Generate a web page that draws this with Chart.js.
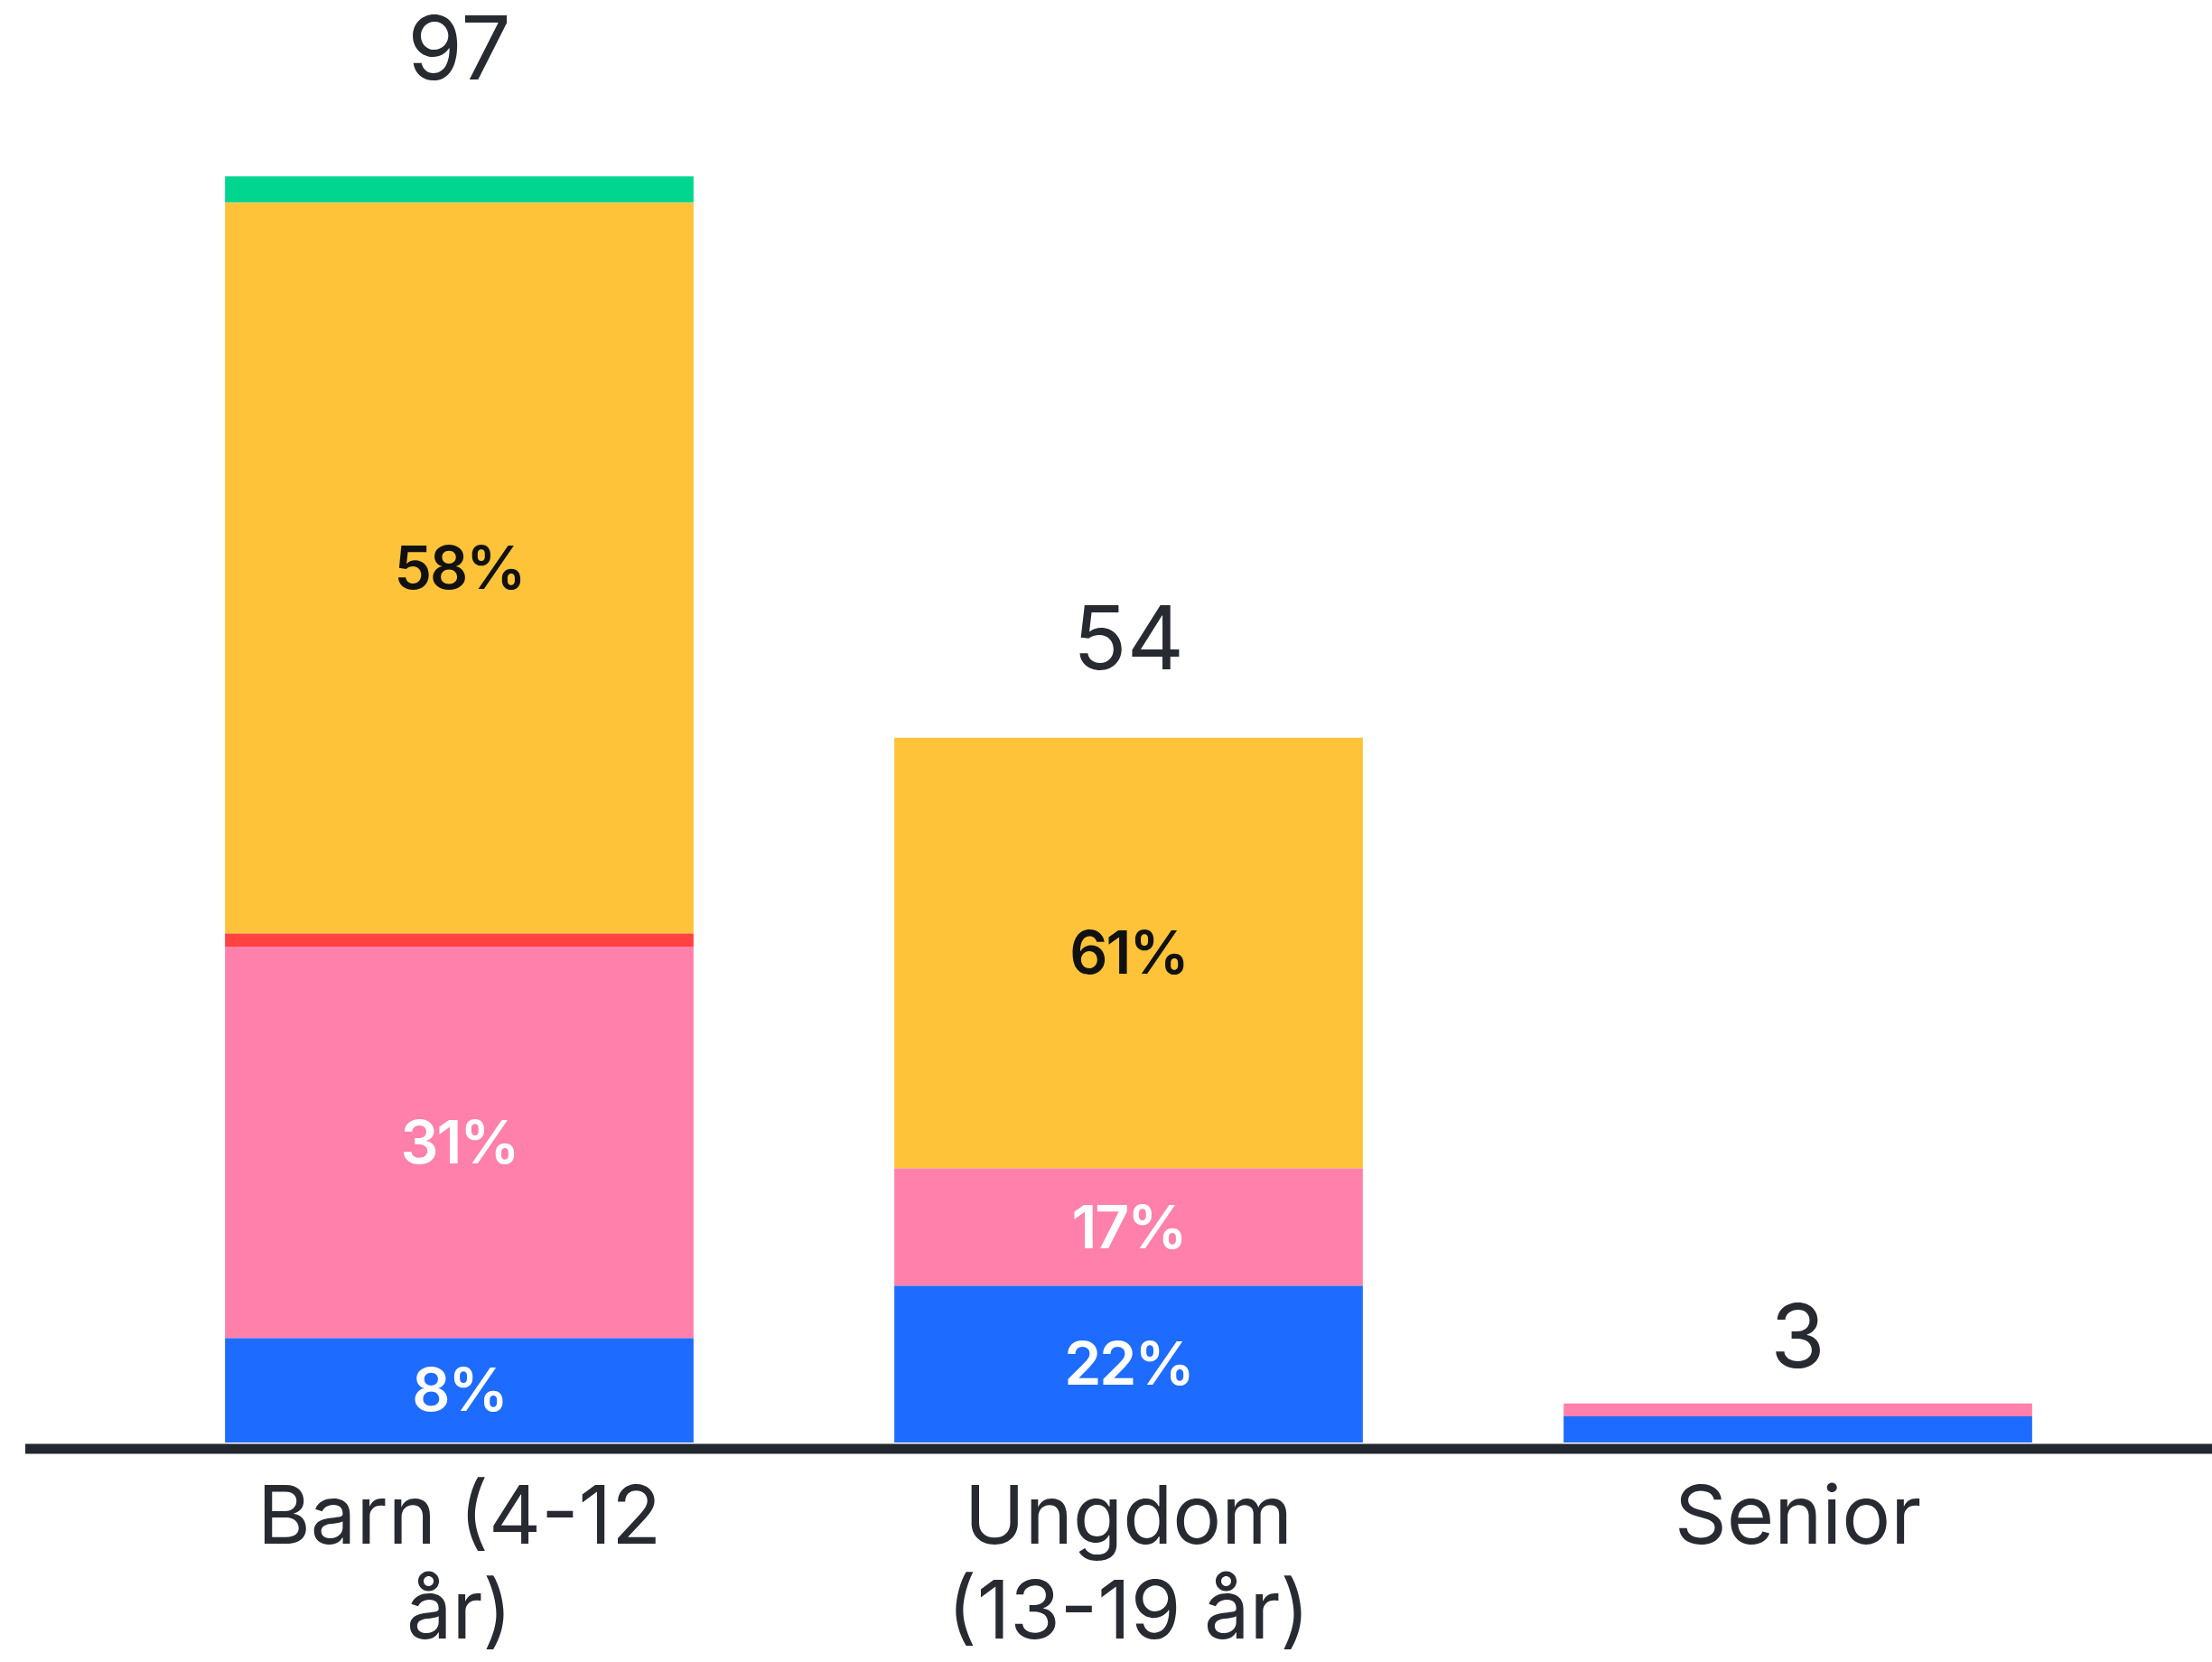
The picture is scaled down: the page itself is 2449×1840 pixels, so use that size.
<!DOCTYPE html>
<html>
<head>
<meta charset="utf-8">
<script src="https://cdn.jsdelivr.net/npm/chart.js@4"></script>
<style>
  body { margin: 0; background: #fff; }
</style>
</head>
<body>
<canvas id="chart" width="2449" height="1840"></canvas>
<script>
const categories = [['Barn (4-12', 'år)'], ['Ungdom', '(13-19 år)'], 'Senior'];
// stacked from bottom to top
const blueValues = [8, 12, 2];
const pinkValues = [30, 9, 1];
const redValues = [1, 0, 0];
const yellowValues = [56, 33, 0];
const greenValues = [2, 0, 0];

const textColor = '#272a31';
const font = 'Inter, "Noto Sans", sans-serif';

const totals = categories.map((c, i) =>
    blueValues[i] + pinkValues[i] + redValues[i] + yellowValues[i] + greenValues[i]);

// percent labels inside segments + total above bars + baseline
const labelPlugin = {
    id: 'labels',
    afterDatasetsDraw(chart) {
        const ctx = chart.ctx;
        const y = chart.scales.y;
        ctx.save();
        ctx.textAlign = 'center';
        ctx.textBaseline = 'alphabetic';

        chart.data.datasets.forEach((ds, di) => {
            const meta = chart.getDatasetMeta(di);
            meta.data.forEach((bar, i) => {
                const v = ds.data[i];
                if (v < 5) return;
                const pct = Math.round(v / totals[i] * 100) + '%';
                ctx.font = '600 66px ' + font;
                ctx.fillStyle = ds.labelColor;
                ctx.letterSpacing = '-2px';
                ctx.fillText(pct, bar.x, (bar.y + bar.base) / 2 + 23);
            });
        });

        ctx.letterSpacing = '0px';
        const base = y.getPixelForValue(0);
        const lastMeta = chart.getDatasetMeta(chart.data.datasets.length - 1);
        lastMeta.data.forEach((bar, i) => {
            const top = y.getPixelForValue(totals[i]);
            const offset = 73 + 0.05 * (base - top);
            ctx.font = '400 98px ' + font;
            ctx.fillStyle = textColor;
            ctx.fillText(String(totals[i]), bar.x, top - offset + 36);
        });

        ctx.strokeStyle = '#23272f';
        ctx.lineWidth = 11;
        ctx.beginPath();
        ctx.moveTo(28, base + 7);
        ctx.lineTo(chart.width, base + 7);
        ctx.stroke();
        ctx.restore();
    }
};

function series(label, data, color, labelColor) {
    return {
        label: label,
        data: data,
        backgroundColor: color,
        borderWidth: 0,
        labelColor: labelColor,
        barPercentage: 0.7,
        categoryPercentage: 1
    };
}

new Chart(document.getElementById('chart'), {
    type: 'bar',
    data: {
        labels: categories,
        datasets: [
            series('Blå', blueValues, '#1e6bff', '#ffffff'),
            series('Rosa', pinkValues, '#ff80aa', '#ffffff'),
            series('Röd', redValues, '#ff4242', '#ffffff'),
            series('Gul', yellowValues, '#fec338', '#111111'),
            series('Grön', greenValues, '#00d690', '#111111')
        ]
    },
    options: {
        responsive: false,
        animation: false,
        layout: {
            padding: { left: 138, right: 88, top: 152, bottom: 0 }
        },
        scales: {
            x: {
                stacked: true,
                grid: { display: false, drawTicks: false },
                border: { display: false },
                ticks: {
                    color: textColor,
                    padding: 32,
                    font: { family: font, size: 90, lineHeight: 1.17 }
                },
                afterFit(scale) { scale.height = 243; }
            },
            y: {
                stacked: true,
                display: false,
                min: 0,
                max: 100
            }
        },
        plugins: {
            legend: { display: false },
            tooltip: { enabled: false }
        }
    },
    plugins: [labelPlugin]
});
</script>
</body>
</html>
